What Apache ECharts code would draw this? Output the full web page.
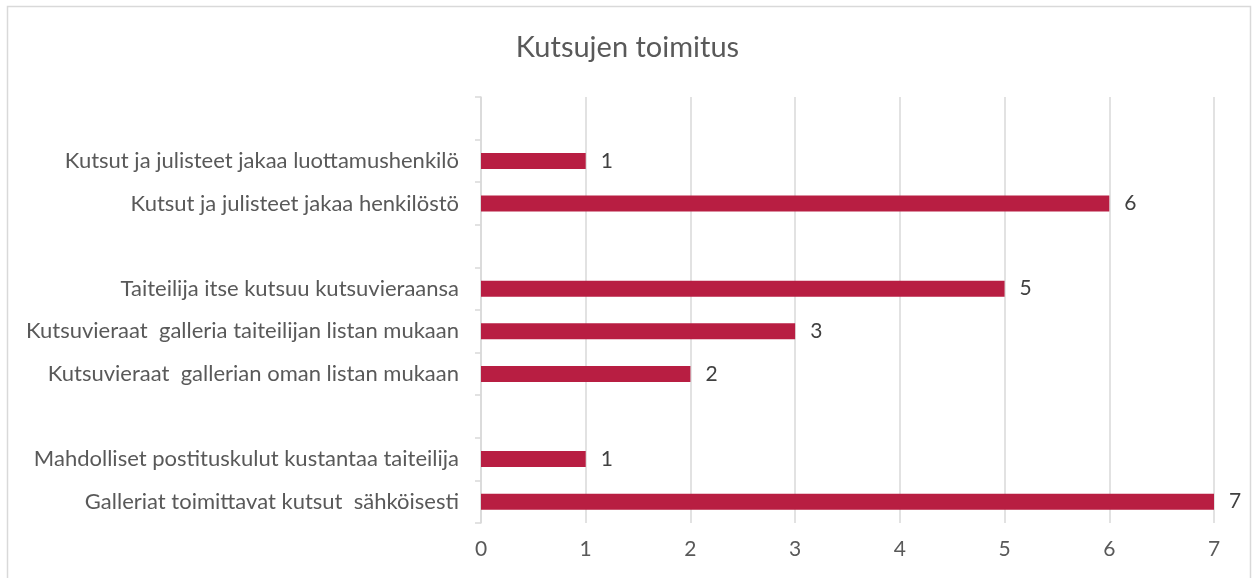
<!DOCTYPE html>
<html>
<head>
<meta charset="utf-8">
<script src="https://cdn.jsdelivr.net/npm/echarts@6/dist/echarts.min.js"></script>
<style>
  html, body { margin: 0; padding: 0; background: #fff; }
  #chart-container { width: 1255px; height: 578px; }
</style>
</head>
<body>
<div id="chart-container"></div>
<script>
// categories from bottom to top, empty strings are the gaps
var categories = [
  'Galleriat toimittavat kutsut  sähköisesti',
  'Mahdolliset postituskulut kustantaa taiteilija',
  '',
  'Kutsuvieraat  gallerian oman listan mukaan',
  'Kutsuvieraat  galleria taiteilijan listan mukaan',
  'Taiteilija itse kutsuu kutsuvieraansa',
  '',
  'Kutsut ja julisteet jakaa henkilöstö',
  'Kutsut ja julisteet jakaa luottamushenkilö',
  ''
];
var values = [7, 1, null, 2, 3, 5, null, 6, 1, null];
var xTicks = [0, 1, 2, 3, 4, 5, 6, 7];

var dom = document.getElementById('chart-container');
var myChart = echarts.init(dom, null, { renderer: 'canvas' });

var font = 'Lato, "Open Sans", sans-serif';
var textColor = '#595959';

var option = {
  backgroundColor: '#fff',
  animation: false,
  title: {
    text: 'Kutsujen toimitus',
    left: 'center',
    top: 28,
    textStyle: { fontFamily: font, fontSize: 29, fontWeight: 'normal', color: textColor }
  },
  graphic: [{
    type: 'rect',
    shape: { x: 7.5, y: 6.5, width: 1243, height: 600 },
    style: { fill: 'none', stroke: '#d9d9d9', lineWidth: 1.5 },
    silent: true
  }],
  grid: { left: 481, right: 41, top: 97, bottom: 55 },
  xAxis: {
    type: 'value',
    min: xTicks[0],
    max: xTicks[xTicks.length - 1],
    interval: 1,
    axisLine: { show: false },
    axisTick: { show: false },
    splitLine: { lineStyle: { color: '#d9d9d9', width: 1.5 } },
    axisLabel: { fontFamily: font, fontSize: 21, color: textColor, margin: 16 }
  },
  yAxis: {
    type: 'category',
    data: categories,
    axisLine: { show: true, lineStyle: { color: '#d9d9d9', width: 1.5 } },
    axisTick: { show: true, length: 6, lineStyle: { color: '#d9d9d9', width: 1.5 } },
    axisLabel: { fontFamily: font, fontSize: 22, color: textColor, margin: 22 }
  },
  series: [{
    type: 'bar',
    data: values,
    barWidth: 16,
    itemStyle: { color: '#b81e42' },
    label: {
      show: true,
      position: 'right',
      distance: 15,
      fontFamily: font,
      fontSize: 21,
      color: '#404040'
    }
  }]
};

myChart.setOption(option);
window.addEventListener('resize', myChart.resize);
</script>
</body>
</html>
